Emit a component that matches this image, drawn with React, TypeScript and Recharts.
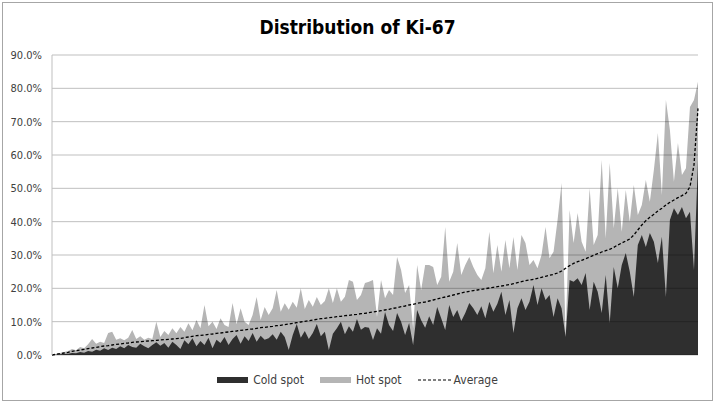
import { ComposedChart, Area, Line, XAxis, YAxis, ReferenceLine } from 'recharts';

// values in percent, one entry per sample (sorted by average)
const coldSpot = [
  0.0, 0.1, 0.2, 0.3, 0.4, 0.6, 0.5, 0.9, 0.7, 1.2, 1.0, 1.6, 1.3, 2.0, 1.5, 2.2, 1.8, 2.6, 2.0, 3.0,
  2.4, 2.2, 3.4, 2.6, 2.0, 3.0, 3.8, 2.8,
  3.6, 2.2, 4.0, 3.0, 1.8, 4.4, 3.2, 5.0, 2.6, 4.2, 3.0, 5.2, 2.0, 4.6, 3.6, 5.4, 3.0, 4.8, 6.0, 3.4,
  5.6, 4.2, 6.6, 4.0, 5.8, 4.6,
  5.0, 6.2, 4.6, 7.0, 5.4, 1.5, 6.0, 9.3, 5.2, 7.2, 4.8, 6.6, 9.3, 5.6, 7.0, 1.5, 6.4, 8.0, 10.0, 6.2,
  8.6, 7.0, 10.8, 7.6, 8.4, 8.2,
  4.5, 8.0, 6.4, 12.9, 9.0, 7.2, 12.6, 10.0, 6.0, 9.6, 3.0, 13.5, 10.4, 8.2, 11.6, 9.0, 14.4, 11.0,
  7.5, 15.0, 11.4, 13.5, 10.2, 12.6, 15.6, 14.0,
  12.0, 14.6, 11.0, 16.0, 13.0, 15.4, 19.0, 12.0, 16.5, 6.6, 14.0, 17.0, 13.5, 16.0, 21.0, 15.0, 20.0,
  16.5, 18.0, 11.4, 17.0, 14.0, 5.4, 22.5, 22.0, 23.0,
  21.0, 24.6, 13.5, 22.0, 19.0, 12.6, 24.0, 9.6, 26.4, 20.0, 27.0, 30.6, 25.0, 17.4, 33.0, 36.0, 32.4,
  36.6, 34.0, 27.6, 35.5, 17.4, 40.5, 44.0, 42.0, 44.4, 41.0, 43.0, 25.5, 58.5,
];

const hotSpot = [
  0.0, 0.3, 0.6, 0.9, 1.2, 1.8, 1.4, 2.4, 2.0, 3.2, 4.8, 3.4, 4.0, 3.6, 6.6, 7.0, 4.6, 5.0, 4.4, 5.2,
  7.5, 4.8, 5.6, 4.6, 5.2, 4.8, 10.0, 5.4,
  7.2, 6.0, 8.0, 6.5, 8.4, 7.0, 9.5, 7.4, 10.5, 8.0, 15.0, 8.6, 10.0, 7.8, 11.0, 9.0, 8.4, 15.6, 9.2,
  14.0, 10.0, 9.0, 12.0, 17.4, 10.5, 14.4,
  12.0, 14.0, 19.5, 13.0, 15.5, 13.6, 16.0, 14.2, 20.0, 13.8, 16.5, 14.5, 17.4, 15.0, 16.2, 20.0, 15.6,
  20.0, 16.0, 17.5, 22.5, 22.0, 16.5, 18.0, 21.6, 22.0,
  22.5, 11.4, 22.5, 17.0, 19.5, 18.0, 29.4, 25.5, 18.6, 21.0, 8.0, 27.0, 19.5, 27.0, 27.0, 26.4, 21.0,
  23.5, 38.4, 22.0, 25.0, 33.6, 24.0, 27.0, 29.4, 26.4,
  24.0, 22.5, 26.0, 37.0, 24.5, 33.0, 25.0, 34.5, 26.0, 35.4, 25.5, 36.0, 33.6, 27.0, 28.5, 26.0, 30.0,
  38.4, 29.0, 31.0, 40.5, 51.6, 6.0, 43.5, 33.6, 42.6,
  34.0, 31.0, 50.0, 33.0, 36.0, 58.5, 35.0, 57.6, 38.0, 50.0, 37.0, 49.5, 40.0, 51.0, 42.0, 45.0, 52.5,
  46.0, 55.5, 66.6, 48.0, 76.5, 67.5, 52.0, 63.6, 54.0, 56.0, 74.4, 76.5, 82.0,
];

const average = [
  0.0, 0.2, 0.4, 0.6, 0.8, 1.1, 1.3, 1.5, 1.7, 1.9, 2.1, 2.3, 2.5, 2.7, 2.8, 3.0, 3.2, 3.3, 3.5, 3.6,
  3.8, 3.9, 4.0, 4.1, 4.2, 4.3, 4.4, 4.5, 4.6, 4.7, 4.8, 4.9, 5.0, 5.2, 5.4, 5.6, 5.8, 5.9, 6.0, 6.2,
  6.3, 6.5, 6.6, 6.8, 6.9, 7.1, 7.2, 7.4, 7.5, 7.7, 7.8, 8.0, 8.2, 8.3, 8.5, 8.6, 8.8, 8.9, 9.1, 9.3,
  9.5, 9.7, 9.9, 10.1, 10.3, 10.5, 10.7, 10.9, 11.0, 11.2, 11.3, 11.5, 11.6, 11.8, 11.9, 12.1, 12.2,
  12.4, 12.5, 12.7, 12.9, 13.1, 13.3, 13.5, 13.7, 14.0, 14.2, 14.5, 14.7, 15.0, 15.2, 15.5, 15.7, 15.9,
  16.2, 16.5, 16.8, 17.1, 17.4, 17.7, 18.0, 18.3, 18.6, 18.9, 19.1, 19.3, 19.5, 19.7, 19.9, 20.1, 20.3,
  20.5, 20.7, 20.9, 21.1, 21.4, 21.7, 22.0, 22.3, 22.5, 22.7, 23.0, 23.3, 23.6, 23.9, 24.2, 24.6, 25.2,
  26.0, 26.8, 27.5, 28.0, 28.4, 28.9, 29.4, 29.9, 30.4, 30.9, 31.3, 31.7, 32.3, 33.0, 33.6, 34.2, 34.8,
  36.0, 37.5, 39.0, 40.3, 41.3, 42.2, 43.2, 44.0, 45.0, 45.8, 46.5, 47.2, 47.8, 48.5, 50.5, 57.0, 74.0,
];

const yTicks = [0, 10, 20, 30, 40, 50, 60, 70, 80, 90];
const seriesNames = ['Cold spot', 'Hot spot', 'Average'];

const data = average.map((avg, i) => ({
  idx: i,
  cold: coldSpot[i],
  hot: hotSpot[i],
  avg,
}));

const FONT = '"DejaVu Sans Condensed", "Liberation Sans Narrow", "Open Sans", sans-serif';
const DARK = '#2f2f2f';
const LIGHT = '#b5b5b5';

function LegendRow() {
  return (
    <div
      style={{
        position: 'absolute',
        top: 373,
        left: 0,
        width: 715,
        display: 'flex',
        justifyContent: 'center',
        alignItems: 'center',
        fontFamily: FONT,
        fontSize: 12,
        color: '#404040',
        gap: 16,
      }}
    >
      <span style={{ display: 'flex', alignItems: 'center' }}>
        <span style={{ width: 31, height: 6, background: DARK, marginRight: 5 }} />
        {seriesNames[0]}
      </span>
      <span style={{ display: 'flex', alignItems: 'center' }}>
        <span style={{ width: 31, height: 6, background: LIGHT, marginRight: 5 }} />
        {seriesNames[1]}
      </span>
      <span style={{ display: 'flex', alignItems: 'center' }}>
        <svg width={33} height={6} style={{ marginRight: 3 }}>
          <line x1={0} y1={3} x2={33} y2={3} stroke="#000" strokeWidth={1.2} strokeDasharray="3 2" />
        </svg>
        {seriesNames[2]}
      </span>
    </div>
  );
}

export default function App() {
  return (
    <div style={{ position: 'absolute', left: 0, top: 0, width: 715, height: 403, background: '#fff' }}>
      <div
        style={{
          position: 'absolute',
          left: 2,
          top: 2,
          width: 709,
          height: 397,
          border: '1px solid #a6a6a6',
        }}
      />
      <div
        style={{
          position: 'absolute',
          top: 16,
          left: 0,
          width: 715,
          textAlign: 'center',
          fontFamily: FONT,
          fontWeight: 'bold',
          fontSize: 19,
          color: '#000',
        }}
      >
        Distribution of Ki-67
      </div>
      <div style={{ position: 'absolute', left: 0, top: 0 }}>
        <ComposedChart width={715} height={403} data={data} margin={{ top: 55, right: 17, bottom: 48, left: 0 }}>
          <XAxis dataKey="idx" type="number" domain={[0, data.length - 1]} hide />
          <YAxis
            width={52}
            domain={[0, 90]}
            ticks={yTicks}
            interval={0}
            tickFormatter={(v: number) => `${v.toFixed(1)}%`}
            tickLine={false}
            tickSize={0}
            tickMargin={10}
            axisLine={{ stroke: '#bfbfbf' }}
            tick={{ fill: '#404040', fontSize: 11, fontFamily: FONT }}
          />
          <Area
            type="linear"
            dataKey="hot"
            name={seriesNames[1]}
            stroke="none"
            fill={LIGHT}
            fillOpacity={1}
            isAnimationActive={false}
          />
          <Area
            type="linear"
            dataKey="cold"
            name={seriesNames[0]}
            stroke="none"
            fill={DARK}
            fillOpacity={1}
            isAnimationActive={false}
          />
          {yTicks.map((t) => (
            <ReferenceLine key={t} y={t} stroke="#000" strokeOpacity={0.25} />
          ))}
          <Line
            type="linear"
            dataKey="avg"
            name={seriesNames[2]}
            stroke="#000"
            strokeWidth={1.3}
            strokeDasharray="3 2"
            dot={false}
            activeDot={false}
            isAnimationActive={false}
          />
        </ComposedChart>
      </div>
      <LegendRow />
    </div>
  );
}
